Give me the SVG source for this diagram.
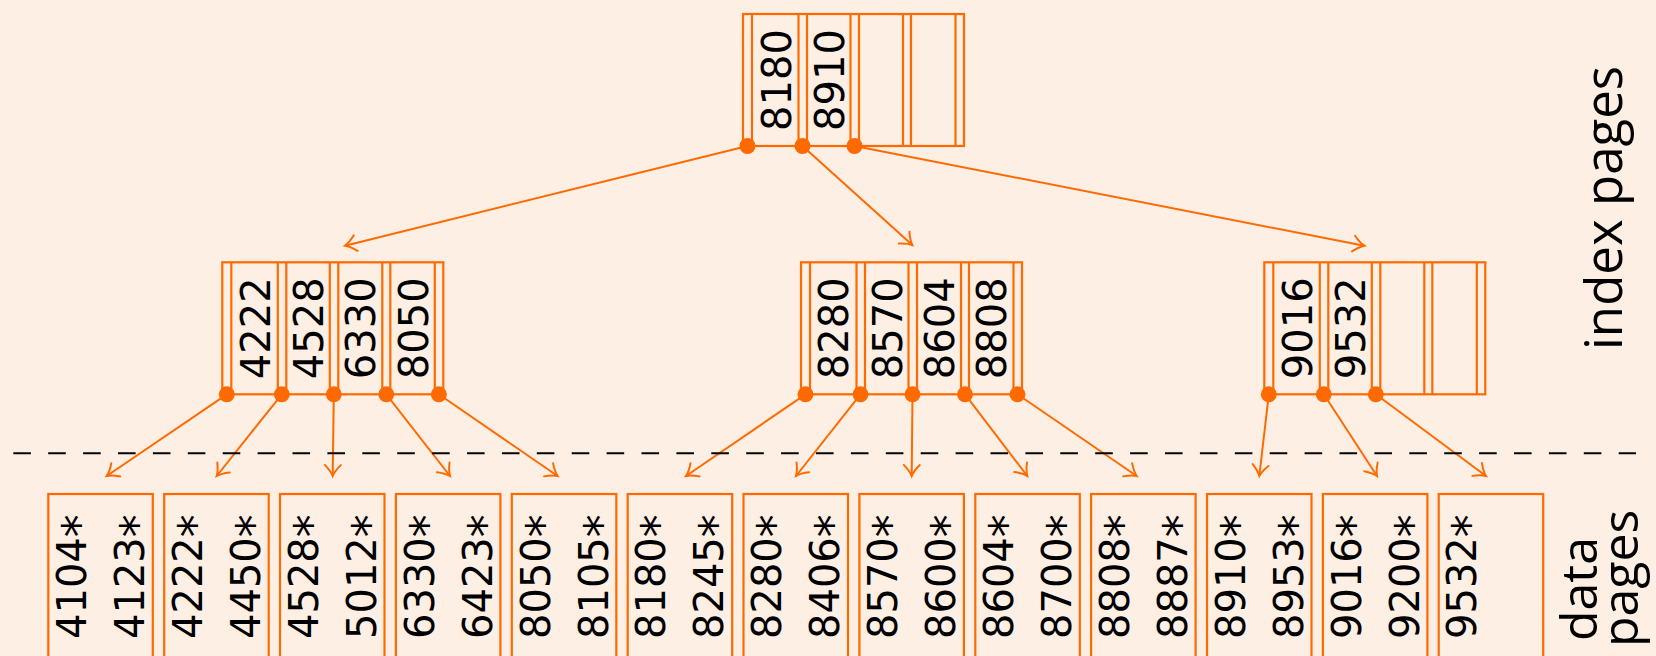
<svg xmlns="http://www.w3.org/2000/svg" xmlns:xlink="http://www.w3.org/1999/xlink" width="1656" height="656" viewBox="0 0 1656 656">
<style>
.ln{stroke:#FF6A00;stroke-width:2.2;fill:none}
.ar{stroke:#FF6A00;stroke-width:2;fill:none}
.dot{fill:#FF6A00}
.k{font-family:"DejaVu Sans",sans-serif;font-size:40px;fill:#000}
.km{font-family:"DejaVu Sans",sans-serif;font-size:40px;fill:#000;text-anchor:middle}
.st{font-size:46px}
.lab{font-family:"Open Sans","DejaVu Sans",sans-serif;font-size:50px;fill:#000}
</style>
<defs>
<marker id="ah" markerUnits="userSpaceOnUse" markerWidth="30" markerHeight="30" viewBox="-15 -15 30 30" refX="0" refY="0" orient="auto" overflow="visible">
<path d="M-11,-8 C-6,-3 -2,-0.8 0,0 C-2,0.8 -6,3 -11,8" stroke="#FF6A00" stroke-width="2" fill="none" stroke-linecap="round"/>
</marker>
<g id="frame">
<rect x="0" y="0" width="221" height="132" class="ln"/>
<path class="ln" d="M9,0V132M55.5,0V132M64,0V132M107.5,0V132M116,0V132M160,0V132M168,0V132M212.5,0V132"/>
</g>
</defs>
<rect width="1656" height="656" fill="#FDEFE4"/>

<g id="connectors">
<path class="ar" marker-end="url(#ah)" d="M747.5,146L345,245.7"/>
<path class="ar" marker-end="url(#ah)" d="M802.5,146L912.3,245"/>
<path class="ar" marker-end="url(#ah)" d="M854.5,146L1364.3,245.7"/>
<path class="ar" marker-end="url(#ah)" d="M226.8,394.3L106.7,476"/>
<path class="ar" marker-end="url(#ah)" d="M281.8,394.3L216.7,476"/>
<path class="ar" marker-end="url(#ah)" d="M333.8,394.3L332.7,476"/>
<path class="ar" marker-end="url(#ah)" d="M386.3,394.3L450,476"/>
<path class="ar" marker-end="url(#ah)" d="M438.8,394.3L557.6,476"/>
<path class="ar" marker-end="url(#ah)" d="M805.5,394.3L686,476"/>
<path class="ar" marker-end="url(#ah)" d="M860.5,394.3L796,476"/>
<path class="ar" marker-end="url(#ah)" d="M912.5,394.3L911.7,476"/>
<path class="ar" marker-end="url(#ah)" d="M965,394.3L1027.3,476"/>
<path class="ar" marker-end="url(#ah)" d="M1017.5,394.3L1136.7,476"/>
<path class="ar" marker-end="url(#ah)" d="M1268.8,394.3L1259.3,476"/>
<path class="ar" marker-end="url(#ah)" d="M1323.8,394.3L1377,476"/>
<path class="ar" marker-end="url(#ah)" d="M1375.8,394.3L1486,476"/>
</g>

<line id="divider" x1="13.3" y1="453.3" x2="1636" y2="453.3" stroke="#000" stroke-width="2" stroke-dasharray="17.6 17.3"/>

<g id="root" transform="translate(743,14)">
<use xlink:href="#frame"/>
<circle class="dot" cx="4.5" cy="132" r="8"/>
<circle class="dot" cx="59.5" cy="132" r="8"/>
<circle class="dot" cx="111.5" cy="132" r="8"/>
<text class="km" transform="translate(47.5,66) rotate(-90)">8180</text>
<text class="km" transform="translate(100.5,66) rotate(-90)">8910</text>
</g>

<g id="idx-left" transform="translate(222.3,262.3)">
<use xlink:href="#frame"/>
<circle class="dot" cx="4.5" cy="132" r="8"/>
<circle class="dot" cx="59.5" cy="132" r="8"/>
<circle class="dot" cx="111.5" cy="132" r="8"/>
<circle class="dot" cx="164" cy="132" r="8"/>
<circle class="dot" cx="216.5" cy="132" r="8"/>
<text class="km" transform="translate(47.25,66) rotate(-90)">4222</text>
<text class="km" transform="translate(100.75,66) rotate(-90)">4528</text>
<text class="km" transform="translate(153,66) rotate(-90)">6330</text>
<text class="km" transform="translate(205.25,66) rotate(-90)">8050</text>
</g>

<g id="idx-mid" transform="translate(801,262.3)">
<use xlink:href="#frame"/>
<circle class="dot" cx="4.5" cy="132" r="8"/>
<circle class="dot" cx="59.5" cy="132" r="8"/>
<circle class="dot" cx="111.5" cy="132" r="8"/>
<circle class="dot" cx="164" cy="132" r="8"/>
<circle class="dot" cx="216.5" cy="132" r="8"/>
<text class="km" transform="translate(47.25,66) rotate(-90)">8280</text>
<text class="km" transform="translate(100.75,66) rotate(-90)">8570</text>
<text class="km" transform="translate(153,66) rotate(-90)">8604</text>
<text class="km" transform="translate(205.25,66) rotate(-90)">8808</text>
</g>

<g id="idx-right" transform="translate(1264.3,262.3)">
<use xlink:href="#frame"/>
<circle class="dot" cx="4.5" cy="132" r="8"/>
<circle class="dot" cx="59.5" cy="132" r="8"/>
<circle class="dot" cx="111.5" cy="132" r="8"/>
<text class="km" transform="translate(47.25,66) rotate(-90)">9016</text>
<text class="km" transform="translate(100.75,66) rotate(-90)">9532</text>
</g>

<g id="d0" transform="translate(48.3,494)"><rect class="ln" width="104.5" height="200"/><text class="k" transform="translate(37.7,145) rotate(-90)">4104<tspan class="st" dy="9">*</tspan></text><text class="k" transform="translate(95.7,145) rotate(-90)">4123<tspan class="st" dy="9">*</tspan></text></g>
<g id="d1" transform="translate(164.2,494)"><rect class="ln" width="104.5" height="200"/><text class="k" transform="translate(37.7,145) rotate(-90)">4222<tspan class="st" dy="9">*</tspan></text><text class="k" transform="translate(95.7,145) rotate(-90)">4450<tspan class="st" dy="9">*</tspan></text></g>
<g id="d2" transform="translate(280.0,494)"><rect class="ln" width="104.5" height="200"/><text class="k" transform="translate(37.7,145) rotate(-90)">4528<tspan class="st" dy="9">*</tspan></text><text class="k" transform="translate(95.7,145) rotate(-90)">5012<tspan class="st" dy="9">*</tspan></text></g>
<g id="d3" transform="translate(395.9,494)"><rect class="ln" width="104.5" height="200"/><text class="k" transform="translate(37.7,145) rotate(-90)">6330<tspan class="st" dy="9">*</tspan></text><text class="k" transform="translate(95.7,145) rotate(-90)">6423<tspan class="st" dy="9">*</tspan></text></g>
<g id="d4" transform="translate(511.8,494)"><rect class="ln" width="104.5" height="200"/><text class="k" transform="translate(37.7,145) rotate(-90)">8050<tspan class="st" dy="9">*</tspan></text><text class="k" transform="translate(95.7,145) rotate(-90)">8105<tspan class="st" dy="9">*</tspan></text></g>
<g id="d5" transform="translate(627.7,494)"><rect class="ln" width="104.5" height="200"/><text class="k" transform="translate(37.7,145) rotate(-90)">8180<tspan class="st" dy="9">*</tspan></text><text class="k" transform="translate(95.7,145) rotate(-90)">8245<tspan class="st" dy="9">*</tspan></text></g>
<g id="d6" transform="translate(743.5,494)"><rect class="ln" width="104.5" height="200"/><text class="k" transform="translate(37.7,145) rotate(-90)">8280<tspan class="st" dy="9">*</tspan></text><text class="k" transform="translate(95.7,145) rotate(-90)">8406<tspan class="st" dy="9">*</tspan></text></g>
<g id="d7" transform="translate(859.4,494)"><rect class="ln" width="104.5" height="200"/><text class="k" transform="translate(37.7,145) rotate(-90)">8570<tspan class="st" dy="9">*</tspan></text><text class="k" transform="translate(95.7,145) rotate(-90)">8600<tspan class="st" dy="9">*</tspan></text></g>
<g id="d8" transform="translate(975.3,494)"><rect class="ln" width="104.5" height="200"/><text class="k" transform="translate(37.7,145) rotate(-90)">8604<tspan class="st" dy="9">*</tspan></text><text class="k" transform="translate(95.7,145) rotate(-90)">8700<tspan class="st" dy="9">*</tspan></text></g>
<g id="d9" transform="translate(1091.1,494)"><rect class="ln" width="104.5" height="200"/><text class="k" transform="translate(37.7,145) rotate(-90)">8808<tspan class="st" dy="9">*</tspan></text><text class="k" transform="translate(95.7,145) rotate(-90)">8887<tspan class="st" dy="9">*</tspan></text></g>
<g id="d10" transform="translate(1207.0,494)"><rect class="ln" width="104.5" height="200"/><text class="k" transform="translate(37.7,145) rotate(-90)">8910<tspan class="st" dy="9">*</tspan></text><text class="k" transform="translate(95.7,145) rotate(-90)">8953<tspan class="st" dy="9">*</tspan></text></g>
<g id="d11" transform="translate(1322.9,494)"><rect class="ln" width="104.5" height="200"/><text class="k" transform="translate(37.7,145) rotate(-90)">9016<tspan class="st" dy="9">*</tspan></text><text class="k" transform="translate(95.7,145) rotate(-90)">9200<tspan class="st" dy="9">*</tspan></text></g>
<g id="d12" transform="translate(1438.7,494)"><rect class="ln" width="104.5" height="200"/><text class="k" transform="translate(37.7,145) rotate(-90)">9532<tspan class="st" dy="9">*</tspan></text></g>

<g id="labels">
<text class="lab" transform="translate(1621.7,350) rotate(-90)" style="font-size:51px">index pages</text>
<text class="lab" transform="translate(1596.7,641) rotate(-90)">data</text>
<text class="lab" transform="translate(1638,647) rotate(-90)">pages</text>
</g>
</svg>
